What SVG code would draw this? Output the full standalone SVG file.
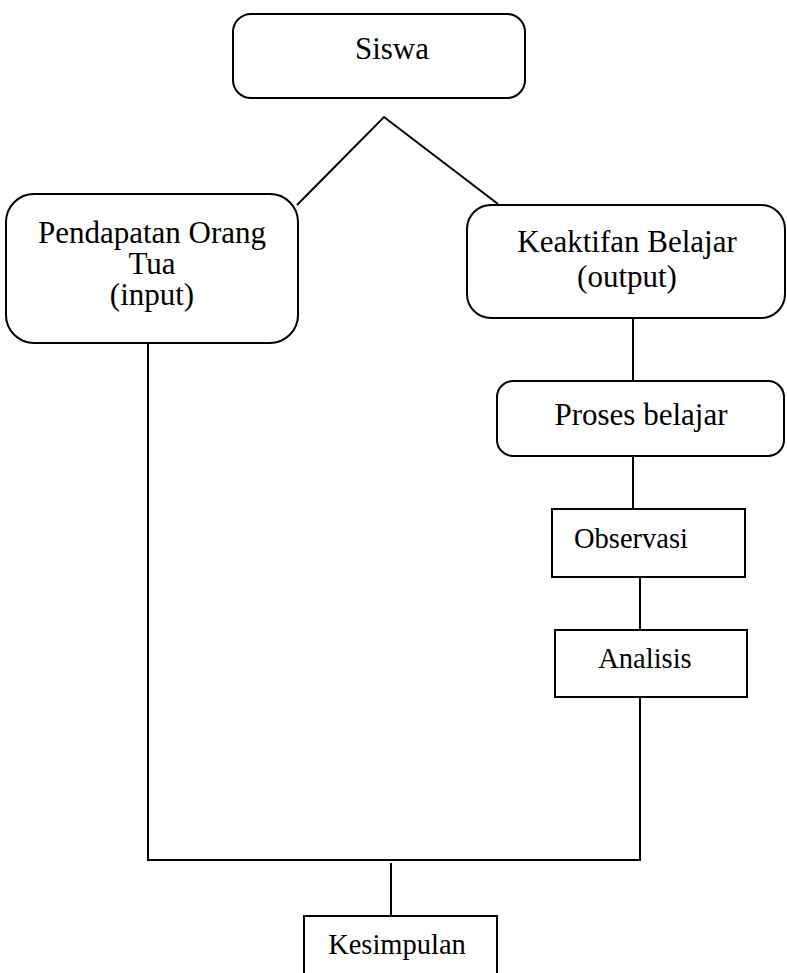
<svg xmlns="http://www.w3.org/2000/svg" width="787" height="973" viewBox="0 0 787 973">
<style>
.box{fill:#fff;stroke:#000;stroke-width:2}
.ln{fill:none;stroke:#000;stroke-width:2}
.t{font-family:"Liberation Serif",serif;fill:#000;text-anchor:middle}
.big{font-size:31px}
.sm{font-size:28.5px}
</style>
<rect width="787" height="973" fill="#fff"/>
<g id="connectors">
<polyline class="ln" points="297,205 384,117 498,204"/>
<line class="ln" x1="633" y1="318" x2="633" y2="381"/>
<line class="ln" x1="633" y1="456" x2="633" y2="509"/>
<line class="ln" x1="640" y1="577" x2="640" y2="630"/>
<polyline class="ln" points="148,343 148,860 640,860 640,697"/>
<line class="ln" x1="391" y1="863" x2="391" y2="916"/>
</g>
<g id="siswa">
<rect class="box" x="233" y="14" width="292" height="84" rx="18"/>
<text class="t big" x="392" y="59">Siswa</text>
</g>
<g id="pendapatan">
<rect class="box" x="6" y="194" width="292" height="149" rx="28"/>
<text class="t big" x="152" y="243">Pendapatan Orang</text>
<text class="t big" x="152" y="274">Tua</text>
<text class="t big" x="152" y="305">(input)</text>
</g>
<g id="keaktifan">
<rect class="box" x="467" y="205" width="318" height="113" rx="24"/>
<text class="t big" x="627" y="252">Keaktifan Belajar</text>
<text class="t big" x="627" y="287">(output)</text>
</g>
<g id="proses">
<rect class="box" x="497" y="381" width="287" height="75" rx="16"/>
<text class="t big" x="641" y="425">Proses belajar</text>
</g>
<g id="observasi">
<rect class="box" x="552" y="509" width="193" height="68"/>
<text class="t sm" x="631" y="548">Observasi</text>
</g>
<g id="analisis">
<rect class="box" x="555" y="630" width="192" height="67"/>
<text class="t sm" x="645" y="668">Analisis</text>
</g>
<g id="kesimpulan">
<rect class="box" x="304" y="916" width="193" height="70"/>
<text class="t sm" x="397" y="954">Kesimpulan</text>
</g>
</svg>
